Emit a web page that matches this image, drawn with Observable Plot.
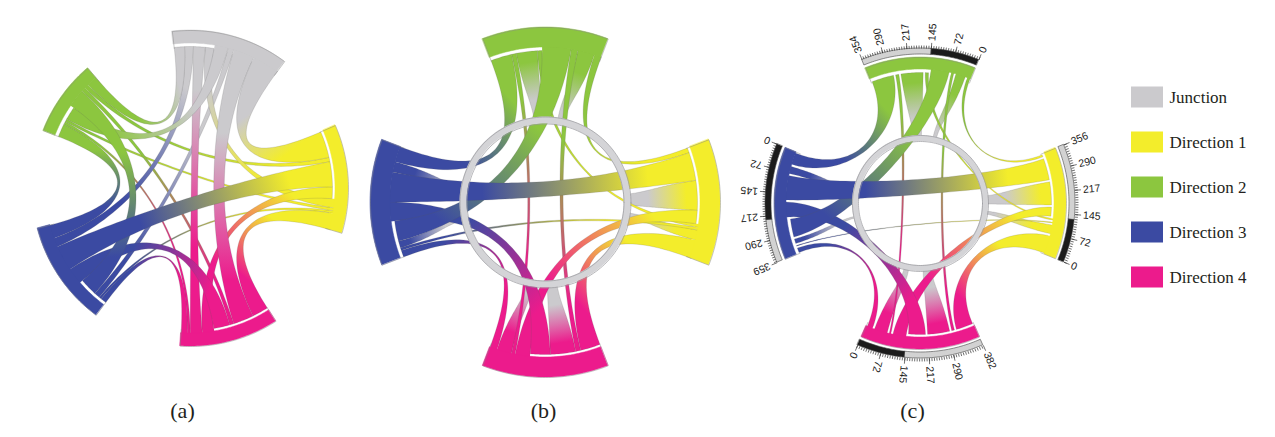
<!DOCTYPE html>
<html><head><meta charset="utf-8">
<script src="https://cdn.jsdelivr.net/npm/d3@7"></script>
<script src="https://cdn.jsdelivr.net/npm/@observablehq/plot@0.6"></script>
<style>html,body{margin:0;padding:0;background:#fff;}</style>
</head><body><div id="chart"></div>
<script>
// ---------- data ----------
const nodes = ["Junction", "Direction 1", "Direction 2", "Direction 3", "Direction 4"];
const nodeColors = ["#cbcacd", "#f3ed2b", "#8cc63f", "#3b4aa2", "#ec1b8c"];
// flows[from][to], order: Junction, Direction 1..4
const fromJunction   = [0, 90, 45, 20, 70];
const fromDirection1 = [30, 0, 10, 8, 55];
const fromDirection2 = [35, 15, 0, 60, 14];
const fromDirection3 = [30, 85, 45, 0, 55];
const fromDirection4 = [40, 40, 10, 20, 0];
const flows = [fromJunction, fromDirection1, fromDirection2, fromDirection3, fromDirection4];
// panel (c) axes, Direction 1..4
const axisMax = [356, 354, 359, 382];
const axisOut = [130, 145, 230, 145];
const tickValues = [0, 72, 145, 217, 290];
const panelLabels = ["(a)", "(b)", "(c)"];

// ---------- layout ----------
const panels = [
  {cx:190, cy:188, R:158, band:13, gap:3, k:0.38, mode:"a", deg:0.12, pad:0,
   sectorNodes:[0,1,2,3,4], centers:{0:-75,1:-3.5,2:215.5,3:146,4:75.5}, ring:null, labelX:182},
  {cx:545, cy:202, R:175, band:20, gap:3, k:0.36, mode:"b", span:42, pad:0,
   sectorNodes:[1,2,3,4], centers:{1:0,2:-90,3:180,4:90}, ring:{r:82,w:7}, ringF:0.7, labelX:543},
  {cx:920, cy:203, R:146, band:12, gap:3, k:0.55, mode:"c", deg:0.125, pad:0.9,
   sectorNodes:[1,2,3,4], centers:{1:0,2:-90,3:180,4:90}, ring:{r:65,w:6}, ringF:0.7,
   axis:{r0:149, r1:155}, labelX:912}
];

const D2R = Math.PI/180;
const pt = (p, a, r) => [p.cx + r*Math.cos(a*D2R), p.cy + r*Math.sin(a*D2R)];
function bez(P, t){ const u=1-t, a=u*u*u, b=3*u*u*t, c=3*u*t*t, d=t*t*t;
  return [a*P[0][0]+b*P[1][0]+c*P[2][0]+d*P[3][0], a*P[0][1]+b*P[1][1]+c*P[2][1]+d*P[3][1]]; }
const arcPts = (p, a0, a1, r, n=12) => d3.range(n+1).map(i=>pt(p, a0+(a1-a0)*i/n, r));

const ribbonMarks = [], marksFront = [], gradients = [];
let gid = 0;

function layout(p){
  const ends = {}, sectors = [];
  for (const n of p.sectorNodes){
    const outs=[], ins=[];
    for (let m=0;m<5;m++){ if (m===n) continue;
      if (flows[n][m]>0) outs.push({m, v:flows[n][m]});
      if (flows[m][n]>0) ins.push({m, v:flows[m][n]});
    }
    const rel = m => p.centers[m]===undefined ? 179 : (((p.centers[m]-p.centers[n])%360)+360)%360;
    outs.sort((a,b)=>rel(a.m)-rel(b.m)); ins.sort((a,b)=>rel(a.m)-rel(b.m));
    const oS = d3.sum(outs,d=>d.v), iS = d3.sum(ins,d=>d.v);
    let oSpan, iSpan;
    if (p.mode==="a"){ oSpan=oS*p.deg; iSpan=iS*p.deg; }
    else if (p.mode==="b"){ const s=p.span/(oS+iS); oSpan=oS*s; iSpan=iS*s; }
    else { const di=n-1; oSpan=axisOut[di]*p.deg; iSpan=(axisMax[di]-axisOut[di])*p.deg; }
    const hi = p.centers[n] + (oSpan+iSpan)/2;
    let cur = hi;
    for (const o of outs){ const w=o.v*oSpan/oS, key=n+">"+o.m;
      (ends[key]=ends[key]||{}).s=[cur-w+p.pad/2, cur-p.pad/2]; cur-=w; }
    for (const i of ins){ const w=i.v*iSpan/iS, key=i.m+">"+n;
      (ends[key]=ends[key]||{}).t=[cur-w+p.pad/2, cur-p.pad/2]; cur-=w; }
    sectors.push({n, lo:cur, hi});
  }
  return {ends, sectors};
}

function buildPanel(p){
  const {ends, sectors} = layout(p);
  const rA = p.R - p.band + 1, rG = p.R - p.band - p.gap;
  const list = [];
  for (let s=0;s<5;s++) for (let t=0;t<5;t++){
    if (s===t || !(flows[s][t]>0)) continue;
    const e = ends[s+">"+t] || {};
    const sRing = p.ring && s===0, tRing = p.ring && t===0;
    let EA, EB, capS=null, capT=null;
    if (!sRing && !tRing){
      const [s0,s1]=e.s, [t0,t1]=e.t;
      EA=[pt(p,s0,rA),pt(p,s0,rA*p.k),pt(p,t1,rG*p.k),pt(p,t1,rG)];
      EB=[pt(p,s1,rA),pt(p,s1,rA*p.k),pt(p,t0,rG*p.k),pt(p,t0,rG)];
      capS=[s0,s1,rA]; capT=[t0,t1,rG];
    } else if (tRing){
      const [s0,s1]=e.s, c=p.centers[s], rr=p.ring.r, f=a=>c+(a-c)*p.ringF;
      EA=[pt(p,s0,rA),pt(p,s0,rr+(rA-rr)*0.45),pt(p,f(s0),rr+(rA-rr)*0.3),pt(p,f(s0),rr)];
      EB=[pt(p,s1,rA),pt(p,s1,rr+(rA-rr)*0.45),pt(p,f(s1),rr+(rA-rr)*0.3),pt(p,f(s1),rr)];
      capS=[s0,s1,rA];
    } else {
      const [t0,t1]=e.t, c=p.centers[t], rr=p.ring.r, f=a=>c+(a-c)*p.ringF;
      EA=[pt(p,f(t0),rr),pt(p,f(t0),rr+(rG-rr)*0.3),pt(p,t0,rr+(rG-rr)*0.45),pt(p,t0,rG)];
      EB=[pt(p,f(t1),rr),pt(p,f(t1),rr+(rG-rr)*0.3),pt(p,t1,rr+(rG-rr)*0.45),pt(p,t1,rG)];
      capT=[t1,t0,rG];
    }
    list.push({s,t,v:flows[s][t],EA,EB,capS,capT,ringed:sRing||tRing});
  }
  list.sort((a,b)=> (b.ringed-a.ringed) || (a.v-b.v));
  for (const r of list){
    const N=48;
    const A=d3.range(N+1).map(i=>bez(r.EA,i/N)), B=d3.range(N+1).map(i=>bez(r.EB,i/N));
    const poly = [
      ...(r.capS ? arcPts(p, r.capS[0], r.capS[1], r.capS[2]) : [A[0], B[0]]),
      ...B.slice(1, N),
      ...(r.capT ? arcPts(p, r.capT[0], r.capT[1], r.capT[2]) : [B[N], A[N]]),
      ...A.slice(1, N).reverse()
    ].map(d=>({x:d[0], y:d[1]}));
    const id = "rg" + (gid++);
    gradients.push({id, from:[(A[0][0]+B[0][0])/2,(A[0][1]+B[0][1])/2], to:[(A[N][0]+B[N][0])/2,(A[N][1]+B[N][1])/2],
      c0:nodeColors[r.s], c1:nodeColors[r.t]});
    ribbonMarks.push(Plot.line(poly,{x:"x",y:"y",fill:`url(#${id})`,stroke:"#555",strokeOpacity:0.35,strokeWidth:0.5}));
  }
  // sector bands + outline
  const bands=[], outl=[];
  for (const sct of sectors){
    const n=40;
    for (let i=0;i<=n;i++){ const a=sct.lo+(sct.hi-sct.lo)*i/n, P=pt(p,a,p.R-p.band), Q=pt(p,a,p.R);
      bands.push({x1:P[0],y1:P[1],x2:Q[0],y2:Q[1],z:sct.n,fill:nodeColors[sct.n]}); }
    const o = [pt(p,sct.lo,p.R-p.band-4), ...arcPts(p,sct.lo,sct.hi,p.R,40), pt(p,sct.hi,p.R-p.band-4)];
    o.forEach(d=>outl.push({x:d[0],y:d[1],z:sct.n}));
  }
  marksFront.push(Plot.area(bands,{x1:"x1",y1:"y1",x2:"x2",y2:"y2",z:"z",fill:"fill",stroke:"fill",strokeWidth:0.5}),
    Plot.line(outl,{x:"x",y:"y",z:"z",stroke:"#8a8a8a",strokeWidth:0.6,strokeOpacity:0.8}));
  // junction ring
  if (p.ring){
    const ring=[], rl=[];
    for (let i=0;i<=180;i++){ const a=i*2, P=pt(p,a,p.ring.r-p.ring.w/2), Q=pt(p,a,p.ring.r+p.ring.w/2);
      ring.push({x1:P[0],y1:P[1],x2:Q[0],y2:Q[1]}); rl.push({x:P[0],y:P[1],z:0},{x:Q[0],y:Q[1],z:1}); }
    rl.sort((a,b)=>a.z-b.z);
    marksFront.push(Plot.area(ring,{x1:"x1",y1:"y1",x2:"x2",y2:"y2",fill:"#d4d4d7"}),
      Plot.line(rl,{x:"x",y:"y",z:"z",stroke:"#9a9a9e",strokeWidth:0.7}));
  }
  // axes (panel c)
  if (p.axis){
    const bars=[], ticks=[], labels=[];
    for (let di=0;di<4;di++){
      const n=di+1, hi=p.centers[n]+axisMax[di]*p.deg/2, ang=v=>hi-v*p.deg;
      const segs=[[0,axisOut[di],"#1b1b1b"],[axisOut[di],axisMax[di],"#d2d2d2"]];
      segs.forEach(([v0,v1,col],j)=>{ for (let i=0;i<=30;i++){ const v=v0+(v1-v0)*i/30,
        P=pt(p,ang(v),p.axis.r0), Q=pt(p,ang(v),p.axis.r1);
        bars.push({x1:P[0],y1:P[1],x2:Q[0],y2:Q[1],z:di*2+j,fill:col}); } });
      for (let v=0; v<=axisMax[di]+0.01; v+=7.25){ const P=pt(p,ang(v),p.axis.r1), Q=pt(p,ang(v),p.axis.r1+3);
        ticks.push({x1:P[0],y1:P[1],x2:Q[0],y2:Q[1]}); }
      for (const v of [...tickValues, axisMax[di]]){ const P=pt(p,ang(v),p.axis.r1), Q=pt(p,ang(v),p.axis.r1+6),
        L=pt(p,ang(v),p.axis.r1+8);
        ticks.push({x1:P[0],y1:P[1],x2:Q[0],y2:Q[1]});
        labels.push({x:L[0],y:L[1],text:String(v),rotate:ang(v)}); }
    }
    marksFront.push(
      Plot.area(bars,{x1:"x1",y1:"y1",x2:"x2",y2:"y2",z:"z",fill:"fill",stroke:"#444",strokeWidth:0.6}),
      Plot.link(ticks,{x1:"x1",y1:"y1",x2:"x2",y2:"y2",stroke:"#333",strokeWidth:0.7}),
      Plot.text(labels,{x:"x",y:"y",text:"text",rotate:"rotate",textAnchor:"start",lineAnchor:"middle",
        fontSize:10.5,fill:"#222",fontFamily:"Liberation Sans"}));
  }
}
panels.forEach(buildPanel);

// legend
const legend = nodes.map((name,i)=>({name, color:nodeColors[i], y:97+i*45}));
const legendMarks = [
  Plot.rect(legend,{x1:()=>1131,x2:()=>1163,y1:d=>d.y-10.5,y2:d=>d.y+10.5,fill:"color"}),
  Plot.text(legend,{x:()=>1169,y:"y",text:"name",textAnchor:"start",fontSize:17,fill:"#231f20",fontFamily:"Liberation Serif"})
];
const labelMarks = [Plot.text(panelLabels.map((t,i)=>({t,x:panels[i].labelX})),
  {x:"x",y:()=>410,text:"t",fontSize:22,fill:"#231f20",fontFamily:"Liberation Serif"})];

const chart = Plot.plot({
  width:1275, height:437, margin:0,
  x:{domain:[0,1275], range:[0,1275], axis:null},
  y:{domain:[0,437], range:[0,437], axis:null},
  color:{type:"identity"},
  style:{background:"#fff"},
  marks:[...ribbonMarks, ...marksFront, ...legendMarks, ...labelMarks]
});
// gradient definitions for the ribbons (source colour -> target colour)
const defs = d3.select(chart).insert("defs", ":first-child");
for (const g of gradients){
  const lg = defs.append("linearGradient").attr("id", g.id).attr("gradientUnits","userSpaceOnUse")
    .attr("x1", g.from[0]).attr("y1", g.from[1]).attr("x2", g.to[0]).attr("y2", g.to[1]);
  [[0,g.c0],[0.3,g.c0],[0.58,d3.interpolateRgb(g.c0,g.c1)(0.5)],[0.85,g.c1],[1,g.c1]].forEach(([o,c])=>
    lg.append("stop").attr("offset", o).attr("stop-color", c));
}
document.getElementById("chart").append(chart);
</script></body></html>
